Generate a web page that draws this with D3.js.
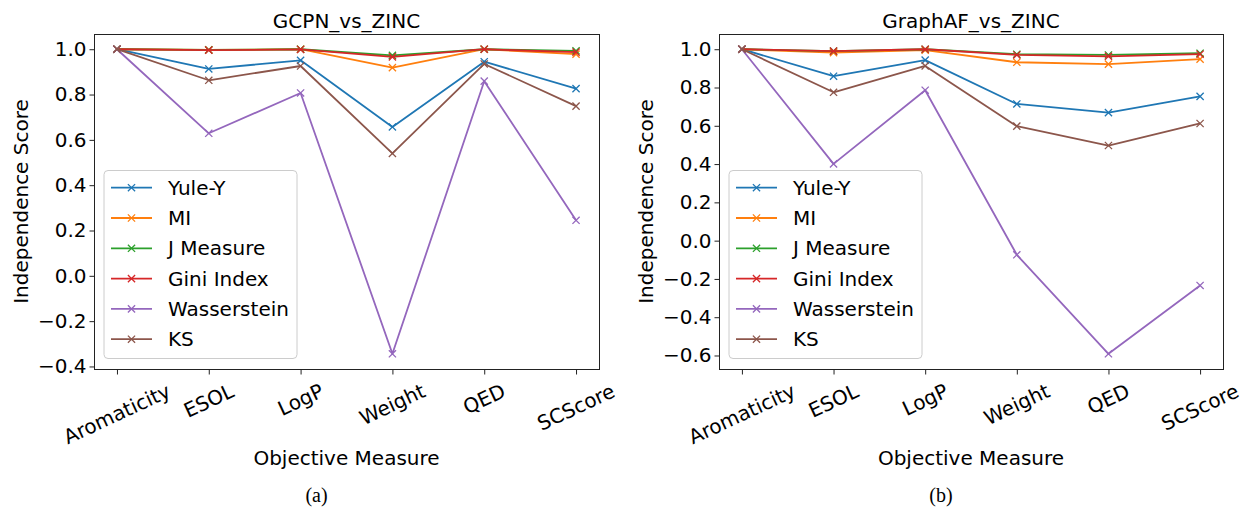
<!DOCTYPE html>
<html>
<head>
<meta charset="utf-8">
<title>Independence score vs objective measure</title>
<script src="https://d3js.org/d3.v7.min.js"></script>
<style>
  body { margin: 0; background: #ffffff; }
  svg text { font-family: "DejaVu Sans", sans-serif; fill: #000; }
</style>
</head>
<body>
<script>
// categories on the x axis
var categories = ["Aromaticity", "ESOL", "LogP", "Weight", "QED", "SCScore"];
var seriesNames = ["Yule-Y", "MI", "J Measure", "Gini Index", "Wasserstein", "KS"];
var colors = ["#1f77b4", "#ff7f0e", "#2ca02c", "#d62728", "#9467bd", "#8c564b"];

// (a) GCPN_vs_ZINC
var gcpnYuleY = [1.0, 0.913, 0.951, 0.657, 0.945, 0.826];
var gcpnMI    = [1.0, 0.997, 1.0, 0.919, 1.0, 0.978];
var gcpnJ     = [1.0, 0.997, 1.0, 0.973, 1.0, 0.993];
var gcpnGini  = [1.0, 0.996, 0.999, 0.966, 1.0, 0.987];
var gcpnWass  = [1.0, 0.629, 0.807, -0.344, 0.859, 0.245];
var gcpnKS    = [1.0, 0.863, 0.926, 0.540, 0.935, 0.749];

// (b) GraphAF_vs_ZINC
var afYuleY = [1.0, 0.859, 0.943, 0.714, 0.669, 0.754];
var afMI    = [1.0, 0.982, 0.995, 0.932, 0.922, 0.948];
var afJ     = [1.0, 0.990, 1.0, 0.974, 0.970, 0.979];
var afGini  = [1.0, 0.990, 1.0, 0.970, 0.963, 0.974];
var afWass  = [1.0, 0.401, 0.786, -0.074, -0.591, -0.234];
var afKS    = [1.0, 0.775, 0.913, 0.598, 0.497, 0.612];

var yTicksA = [-0.4, -0.2, 0.0, 0.2, 0.4, 0.6, 0.8, 1.0];
var yTicksB = [-0.6, -0.4, -0.2, 0.0, 0.2, 0.4, 0.6, 0.8, 1.0];

var w = 1242, h = 508;
var svg = d3.select("body").append("svg")
    .attr("width", w)
    .attr("height", h);

var plotTop = 34, plotBottom = 369;
var fs = 20;

function panel(x0, x1, title, series, yTicks, caption) {
    var all = d3.merge(series);
    var lo = d3.min(all), hi = d3.max(all);
    var m = (hi - lo) * 0.05;
    var y = d3.scaleLinear().domain([lo - m, hi + m]).range([plotBottom, plotTop]);
    var x = d3.scalePoint().domain(categories).range([x0, x1]).padding(0.25);

    var g = svg.append("g");

    // lines and markers
    series.forEach(function(vals, si) {
        var pts = categories.map(function(c, i) { return [x(c), y(vals[i])]; });
        g.append("path")
            .attr("d", d3.line()(pts))
            .attr("fill", "none")
            .attr("stroke", colors[si])
            .attr("stroke-width", 1.8)
            .attr("stroke-linejoin", "round");
        g.selectAll(null)
            .data(pts)
            .enter()
            .append("path")
            .attr("d", function(p) {
                var s = 3.6;
                return "M" + (p[0]-s) + "," + (p[1]-s) + "L" + (p[0]+s) + "," + (p[1]+s) +
                       "M" + (p[0]-s) + "," + (p[1]+s) + "L" + (p[0]+s) + "," + (p[1]-s);
            })
            .attr("stroke", colors[si])
            .attr("stroke-width", 1.3)
            .attr("fill", "none");
    });

    // frame
    g.append("rect")
        .attr("x", x0 + 0.5).attr("y", plotTop + 0.5)
        .attr("width", x1 - x0).attr("height", plotBottom - plotTop)
        .attr("fill", "none").attr("stroke", "#222").attr("stroke-width", 1);

    // y axis
    var ya = g.append("g")
        .attr("transform", "translate(" + (x0 + 0.5) + ",0)")
        .call(d3.axisLeft(y).tickValues(yTicks).tickFormat(d3.format(".1f")).tickSize(5).tickPadding(3));
    ya.select(".domain").remove();
    ya.selectAll("line").attr("stroke", "#222");
    ya.selectAll("text").attr("font-size", fs).attr("font-family", "DejaVu Sans");

    // x axis
    var xa = g.append("g")
        .attr("transform", "translate(0," + (plotBottom + 0.5) + ")")
        .call(d3.axisBottom(x).tickSize(5).tickFormat(""));
    xa.select(".domain").remove();
    xa.selectAll("line").attr("stroke", "#222");

    var ang = 25 * Math.PI / 180;
    categories.forEach(function(c) {
        var t = g.append("text")
            .text(c)
            .attr("font-size", fs)
            .attr("text-anchor", "middle")
            .attr("dy", "0.35em");
        var tw = t.node().getComputedTextLength();
        var th = fs * 1.17;
        var half = (tw * Math.sin(ang) + th * Math.cos(ang)) / 2;
        t.attr("transform", "translate(" + x(c) + "," + (plotBottom + 10 + half) + ") rotate(-25)");
    });

    // title and axis labels
    var cx = (x0 + x1) / 2;
    g.append("text").text(title)
        .attr("x", cx).attr("y", 28)
        .attr("text-anchor", "middle").attr("font-size", fs);
    g.append("text").text("Objective Measure")
        .attr("x", cx).attr("y", 465)
        .attr("text-anchor", "middle").attr("font-size", fs);
    g.append("text").text("Independence Score")
        .attr("transform", "translate(" + (x0 - 66) + "," + ((plotTop + plotBottom) / 2) + ") rotate(-90)")
        .attr("text-anchor", "middle").attr("font-size", fs);
    g.append("text").text(caption)
        .attr("x", cx - 30).attr("y", 502)
        .attr("text-anchor", "middle")
        .attr("font-size", 20)
        .style("font-family", "'Liberation Serif', serif");

    // legend
    var lx = x0 + 10, ly = 170.5;
    g.append("rect")
        .attr("x", lx).attr("y", ly)
        .attr("width", 193).attr("height", 188)
        .attr("rx", 4)
        .attr("fill", "#ffffff").attr("fill-opacity", 0.8)
        .attr("stroke", "#cccccc").attr("stroke-width", 1);
    seriesNames.forEach(function(name, i) {
        var ry = 187.7 + i * 30.3;
        g.append("line")
            .attr("x1", x0 + 17).attr("x2", x0 + 58)
            .attr("y1", ry).attr("y2", ry)
            .attr("stroke", colors[i]).attr("stroke-width", 1.8);
        var mx = x0 + 37.5, s = 3.6;
        g.append("path")
            .attr("d", "M" + (mx-s) + "," + (ry-s) + "L" + (mx+s) + "," + (ry+s) +
                       "M" + (mx-s) + "," + (ry+s) + "L" + (mx+s) + "," + (ry-s))
            .attr("stroke", colors[i]).attr("stroke-width", 1.3);
        g.append("text").text(name)
            .attr("x", x0 + 74).attr("y", ry)
            .attr("dy", "0.35em")
            .attr("font-size", fs);
    });
}

panel(94, 599, "GCPN_vs_ZINC",
      [gcpnYuleY, gcpnMI, gcpnJ, gcpnGini, gcpnWass, gcpnKS], yTicksA, "(a)");
panel(719, 1223, "GraphAF_vs_ZINC",
      [afYuleY, afMI, afJ, afGini, afWass, afKS], yTicksB, "(b)");
</script>
</body>
</html>
